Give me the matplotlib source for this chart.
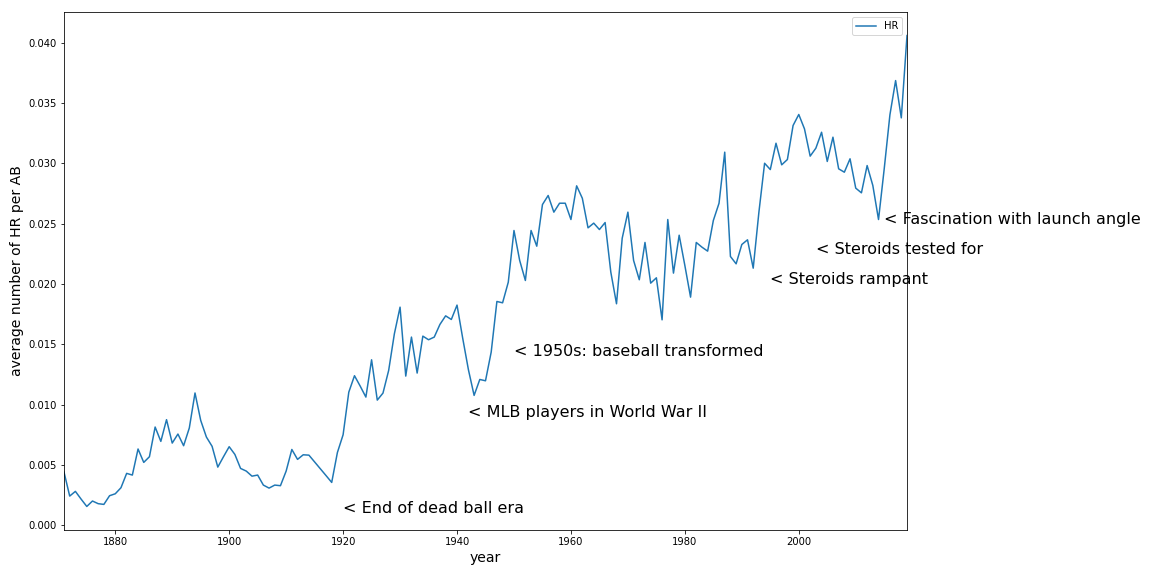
import matplotlib
matplotlib.use("Agg")
import matplotlib.pyplot as plt
import numpy as np

years = list(range(1871, 2020))
hr_per_ab = [
    0.00442, 0.00243, 0.00282, 0.00218, 0.00157, 0.00202, 0.00180, 0.00174, 0.00246, 0.00262,  # 1871-1880
    0.00312, 0.00431, 0.00417, 0.00633, 0.00522, 0.00569, 0.00815, 0.00696, 0.00876, 0.00682,  # 1881-1890
    0.00757, 0.00660, 0.00807, 0.01097, 0.00870, 0.00732, 0.00655, 0.00483, 0.00569, 0.00652,  # 1891-1900
    0.00588, 0.00472, 0.00450, 0.00408, 0.00417, 0.00334, 0.00309, 0.00334, 0.00329, 0.00450,  # 1901-1910
    0.00629, 0.00547, 0.00585, 0.00582, 0.00526, 0.00470, 0.00413, 0.00356, 0.00604, 0.00751,  # 1911-1920
    0.01104, 0.01240, 0.01154, 0.01063, 0.01372, 0.01038, 0.01096, 0.01284, 0.01587, 0.01808,  # 1921-1930
    0.01237, 0.01560, 0.01262, 0.01568, 0.01538, 0.01560, 0.01665, 0.01736, 0.01706, 0.01825,  # 1931-1940
    0.01550, 0.01290, 0.01077, 0.01209, 0.01198, 0.01436, 0.01855, 0.01844, 0.02015, 0.02443,  # 1941-1950
    0.02195, 0.02029, 0.02443, 0.02313, 0.02658, 0.02733, 0.02595, 0.02669, 0.02669, 0.02534,  # 1951-1960
    0.02813, 0.02710, 0.02465, 0.02504, 0.02451, 0.02509, 0.02098, 0.01836, 0.02379, 0.02595,  # 1961-1970
    0.02195, 0.02035, 0.02344, 0.02007, 0.02051, 0.01703, 0.02534, 0.02090, 0.02404, 0.02153,  # 1971-1980
    0.01891, 0.02344, 0.02305, 0.02272, 0.02526, 0.02669, 0.03092, 0.02228, 0.02167, 0.02327,  # 1981-1990
    0.02366, 0.02131, 0.02595, 0.03000, 0.02948, 0.03166, 0.02987, 0.03031, 0.03313, 0.03404,  # 1991-2000
    0.03285, 0.03059, 0.03125, 0.03257, 0.03015, 0.03216, 0.02954, 0.02926, 0.03037, 0.02794,  # 2001-2010
    0.02755, 0.02981, 0.02816, 0.02534, 0.02954, 0.03401, 0.03685, 0.03376, 0.04058,           # 2011-2019
]

note_years = [1920, 1942, 1950, 1995, 2003, 2015]
note_values = [0.001, 0.009, 0.014, 0.020, 0.0225, 0.025]
note_texts = [
    "< End of dead ball era",
    "< MLB players in World War II",
    "< 1950s: baseball transformed",
    "< Steroids rampant",
    "< Steroids tested for",
    "< Fascination with launch angle",
]

fig = plt.figure(figsize=(16, 8), dpi=72)
ax = fig.add_axes([64 / 1152, 1 - 530 / 576, (907 - 64) / 1152, (530 - 12) / 576])
ax.plot(years, hr_per_ab, color="#1f77b4", label="HR", linewidth=1.5)
ax.set_xlim(years[0], years[-1])
ax.margins(x=0)
ax.set_xlabel("year", fontsize=14)
ax.set_ylabel("average number of HR per AB", fontsize=14)
ax.legend(loc="upper right")
for yr, v, t in zip(note_years, note_values, note_texts):
    ax.text(yr, v, t, fontsize=16, clip_on=False)

fig.savefig("out.png", dpi=72)
